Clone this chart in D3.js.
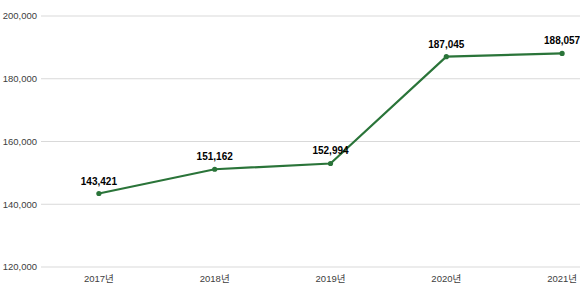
<!DOCTYPE html>
<html><head><meta charset="utf-8">
<script src="https://cdn.jsdelivr.net/npm/d3@7"></script>
<style>body{margin:0;background:#fff}svg{display:block}</style>
</head><body>
<script>
const categories = ["2017년","2018년","2019년","2020년","2021년"];
const values = [143421,151162,152994,187045,188057];
const yTicks = [120000,140000,160000,180000,200000];

const W=580,H=300;
const svg=d3.select("body").append("svg").attr("width",W).attr("height",H);
const x=d3.scaleBand().domain(categories).range([41,620]);
const y=d3.scaleLinear().domain([120000,200000]).range([267,16]);
const fmt=d3.format(",");
const font="'Liberation Sans','Noto Sans CJK KR',sans-serif";

svg.append("g").selectAll("line").data(yTicks).join("line")
 .attr("x1",41).attr("x2",W).attr("y1",d=>y(d)).attr("y2",d=>y(d))
 .attr("stroke","#d9d9d9").attr("stroke-width",1);

svg.append("g").selectAll("text").data(yTicks).join("text")
 .attr("x",37).attr("y",d=>y(d)).attr("dy","0.35em").attr("text-anchor","end")
 .attr("font-family",font).attr("font-size",9.5).attr("fill","#404040").text(d=>fmt(d));

svg.append("g").selectAll("text").data(categories).join("text")
 .attr("x",d=>x(d)+x.bandwidth()/2).attr("y",279).attr("dy","0.35em").attr("text-anchor","middle")
 .attr("font-family",font).attr("font-size",9.5).attr("fill","#404040").text(d=>d);

const pts=categories.map((c,i)=>({c,v:values[i]}));
const line=d3.line().x(d=>x(d.c)+x.bandwidth()/2).y(d=>y(d.v));
svg.append("path").datum(pts).attr("d",line).attr("fill","none")
 .attr("stroke","#2a7439").attr("stroke-width",2.2);
svg.append("g").selectAll("circle").data(pts).join("circle")
 .attr("cx",d=>x(d.c)+x.bandwidth()/2).attr("cy",d=>y(d.v)).attr("r",2.6).attr("fill","#2a7439");
svg.append("g").selectAll("text").data(pts).join("text")
 .attr("x",d=>x(d.c)+x.bandwidth()/2).attr("y",d=>y(d.v)-9)
 .attr("text-anchor","middle").attr("font-family",font).attr("font-weight","bold")
 .attr("font-size",10).attr("fill","#000").text(d=>fmt(d.v));
</script>
</body></html>
